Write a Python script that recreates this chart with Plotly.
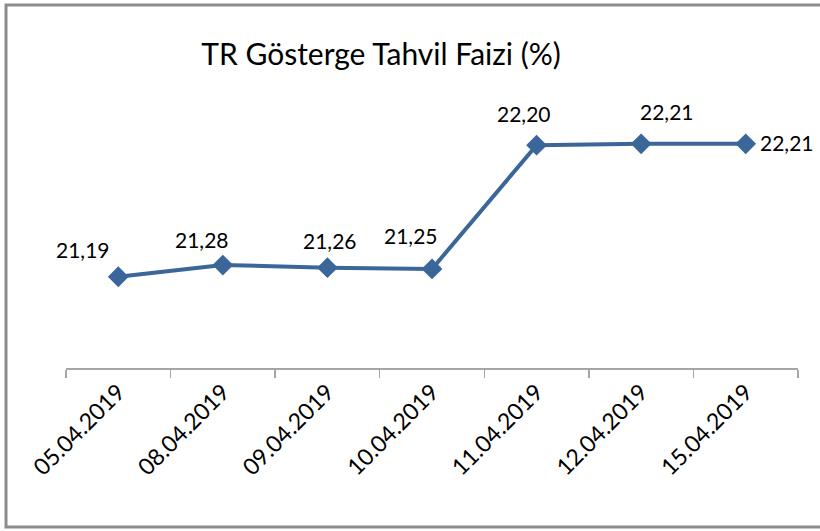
import plotly.graph_objects as go

dates = ["05.04.2019", "08.04.2019", "09.04.2019", "10.04.2019",
         "11.04.2019", "12.04.2019", "15.04.2019"]
values = [21.19, 21.28, 21.26, 21.25, 22.20, 22.21, 22.21]
labels = ["21,19", "21,28", "21,26", "21,25", "22,20", "22,21", "22,21"]
title_text = "TR Gösterge Tahvil Faizi (%)"

# label offsets in pixels (styling)
label_dx = [-35, -21, 3, -21, -13, 26, 41]
label_dy = [27, 26, 27, 33, 32, 32, 1]

FONT = "Lato, Open Sans, sans-serif"
BLUE = "#3B6699"

fig = go.Figure()
fig.add_trace(go.Scatter(
    x=dates, y=values, mode="lines+markers",
    line=dict(color=BLUE, width=4),
    marker=dict(symbol="diamond", size=16, color=BLUE),
    hoverinfo="skip", showlegend=False, cliponaxis=False,
))

for d, v, t, dx, dy in zip(dates, values, labels, label_dx, label_dy):
    fig.add_annotation(x=d, y=v, text=t, showarrow=False,
                       xshift=dx, yshift=dy,
                       font=dict(family=FONT, size=21, color="black"))

L, R, T, B = 66, 22, 93, 163
W, H = 820, 531
pw, ph = W - L - R, H - T - B

def px_to_paper_x(px):
    return (px - L) / pw

def px_to_paper_y(py):
    return (H - B - py) / ph

fig.add_shape(type="rect", xref="paper", yref="paper",
              x0=px_to_paper_x(6), x1=px_to_paper_x(826),
              y0=px_to_paper_y(527), y1=px_to_paper_y(5),
              line=dict(color="#8C8C8C", width=3), fillcolor="rgba(0,0,0,0)",
              layer="below")

fig.update_layout(
    width=W, height=H,
    margin=dict(l=L, r=R, t=T, b=B, autoexpand=False),
    paper_bgcolor="white", plot_bgcolor="white",
    title=dict(text=title_text, xref="paper", x=px_to_paper_x(381),
               xanchor="center", yref="container", y=1 - 54 / H,
               yanchor="middle",
               font=dict(family=FONT, size=30, color="black")),
    xaxis=dict(type="category", showgrid=False, showline=True,
               linecolor="#A6A6A6", linewidth=1.5,
               ticks="outside", tickson="boundaries", ticklen=8,
               tickcolor="#A6A6A6", tickwidth=1.5,
               tickangle=-45, automargin=False,
               tickfont=dict(family=FONT, size=23, color="black"),
               range=[-0.5, 6.5], zeroline=False),
    yaxis=dict(visible=False, range=[20.49, 22.6], showgrid=False,
               zeroline=False, automargin=False),
)

fig.write_html("out.html",
               config={"displayModeBar": False, "staticPlot": True},
               post_script="document.body.style.margin='0';"
                           "document.body.style.overflow='hidden';")
